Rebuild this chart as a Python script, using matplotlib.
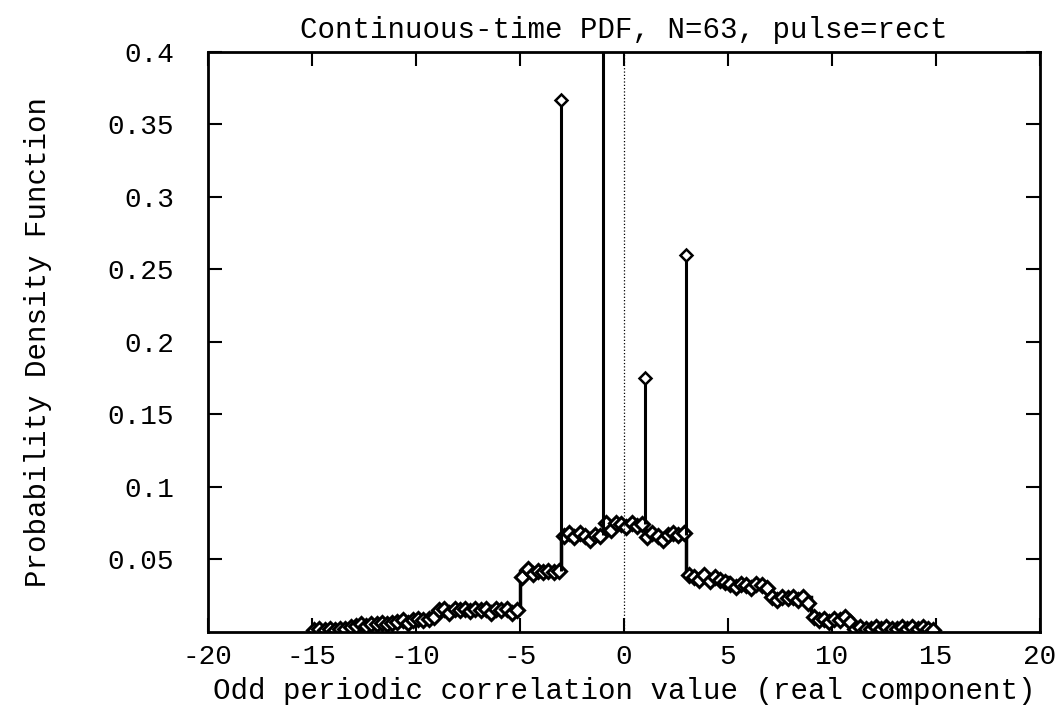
import numpy as np
import matplotlib.pyplot as plt

plt.rcParams['font.family'] = ['Liberation Mono', 'DejaVu Sans Mono']
plt.rcParams['axes.unicode_minus'] = False

# Step edges and PDF level on each interval
edges = [-15, -13, -11, -9, -7, -5, -3, -1, 1, 3, 5, 7, 9, 11, 13, 15]
levels = [0.002, 0.005, 0.008, 0.016, 0.016, 0.042, 0.067, 0.074,
          0.067, 0.038, 0.032, 0.024, 0.009, 0.002, 0.002]

# Sampled values (diamonds) inside each interval, 8 per interval
samples = [
    [0.001, 0.002, 0.001, 0.002, 0.001, 0.002, 0.002, 0.003],
    [0.004, 0.005, 0.004, 0.005, 0.005, 0.006, 0.005, 0.006],
    [0.007, 0.008, 0.006, 0.008, 0.009, 0.008, 0.009, 0.010],
    [0.015, 0.016, 0.013, 0.016, 0.015, 0.016, 0.014, 0.016],
    [0.015, 0.016, 0.013, 0.016, 0.015, 0.016, 0.013, 0.015],
    [0.038, 0.043, 0.040, 0.042, 0.041, 0.042, 0.041, 0.042],
    [0.066, 0.068, 0.065, 0.068, 0.066, 0.063, 0.067, 0.066],
    [0.075, 0.070, 0.075, 0.074, 0.072, 0.075, 0.073, 0.074],
    [0.065, 0.068, 0.066, 0.063, 0.067, 0.068, 0.067, 0.068],
    [0.039, 0.038, 0.036, 0.039, 0.035, 0.038, 0.036, 0.034],
    [0.033, 0.031, 0.033, 0.032, 0.030, 0.033, 0.032, 0.030],
    [0.024, 0.022, 0.024, 0.023, 0.024, 0.022, 0.024, 0.020],
    [0.010, 0.008, 0.009, 0.007, 0.009, 0.008, 0.010, 0.007],
    [0.002, 0.003, 0.002, 0.002, 0.003, 0.002, 0.003, 0.002],
    [0.002, 0.003, 0.002, 0.003, 0.002, 0.003, 0.002, 0.001],
]

# Impulses at the odd integers
spike_x = [-3, -1, 1, 3]
spike_base = [0.042, 0.067, 0.074, 0.067]
spike_top = [0.367, 0.52, 0.175, 0.26]

fig = plt.figure(figsize=(10.59, 7.09), dpi=100)
ax = fig.add_axes([0.196, 0.109, 0.786, 0.818])

ax.stairs(levels, edges, color='k', lw=2.5)

for i, vals in enumerate(samples):
    a, b = edges[i], edges[i + 1]
    xs = np.linspace(a + 0.125, b - 0.125, len(vals))
    ax.plot(xs, vals, color='k', lw=4, marker='D', ms=7,
            mfc='white', mec='k', mew=2.2)

ax.vlines(spike_x, spike_base, spike_top, color='k', lw=2.2)
ax.plot(spike_x, spike_top, ls='none', marker='D', ms=6.5,
        mfc='white', mec='k', mew=1.8)

ax.axvline(0, color='k', ls=':', lw=0.9)

ax.set_xlim(-20, 20)
ax.set_ylim(0, 0.4)
ax.set_xticks(np.arange(-20, 21, 5))
ax.set_yticks([0.05, 0.1, 0.15, 0.2, 0.25, 0.3, 0.35, 0.4])
ax.set_yticklabels(['0.05', '0.1', '0.15', '0.2', '0.25', '0.3', '0.35', '0.4'])
ax.tick_params(direction='in', length=10, width=1.5, top=True, right=True,
               labelsize=20)
ax.tick_params(axis='y', pad=24)
ax.tick_params(axis='x', pad=9)
for s in ax.spines.values():
    s.set_linewidth(2)

ax.set_title('Continuous-time PDF, N=63, pulse=rect', fontsize=21, pad=10)
ax.set_xlabel('Odd periodic correlation value (real component)', fontsize=21)
ax.xaxis.set_label_coords(0.5, -0.078)
ax.set_ylabel('Probability Density Function', fontsize=21, labelpad=40)

fig.savefig('out.png', dpi=100)
